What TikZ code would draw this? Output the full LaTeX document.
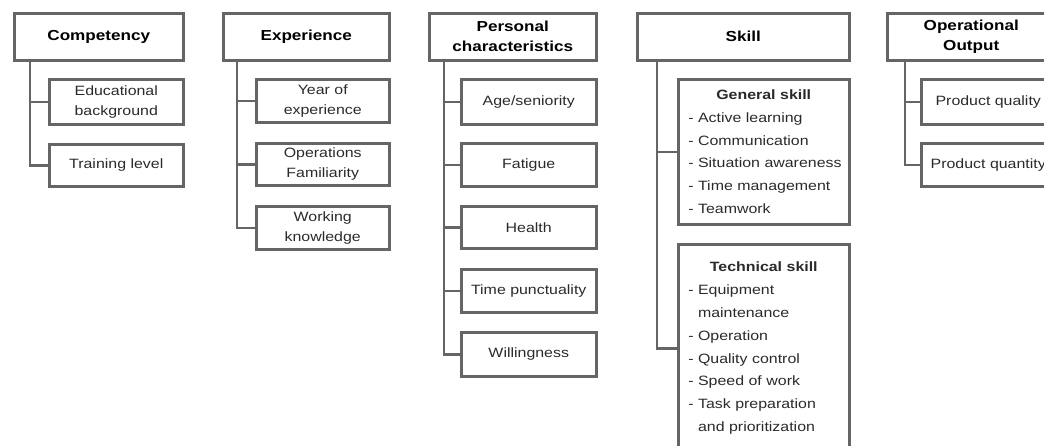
\documentclass[tikz,border=0pt]{standalone}
\usepackage{fontspec}
\setmainfont[FakeStretch=1.18]{Liberation Sans}
\definecolor{lc}{HTML}{656565}
\definecolor{tc}{HTML}{2A2A2A}
\begin{document}
\begin{tikzpicture}[x=1pt,y=-1pt,
  box/.style={draw=lc, line width=2.5pt, anchor=north west, inner sep=0pt, align=center,
              font=\fontsize{13.5}{20}\selectfont, text=tc},
  head/.style={box, font=\fontsize{14.5}{20}\selectfont\bfseries, text=black},
  listbox/.style={box, align=left, text width=151pt, font=\fontsize{13.5}{22.8}\selectfont},
  conn/.style={draw=lc, line width=2.5pt},
]
\useasboundingbox (0,0) rectangle (1044,445);
\clip (0,0) rectangle (1044,445);

% Competency
\node[head, minimum width=169pt, minimum height=47pt] (comp) at (13,12) {Competency};
\node[box, minimum width=134pt, minimum height=45pt] (edu) at (48,78) {Educational\\background};
\node[box, minimum width=134pt, minimum height=42pt] (train) at (48,143) {Training level};
\draw[conn] ([xshift=17pt]comp.south west) |- (edu.west);
\draw[conn] ([xshift=17pt]comp.south west) |- (train.west);

% Experience
\node[head, minimum width=166pt, minimum height=47pt] (exp) at (222,12) {Experience};
\node[box, minimum width=133pt, minimum height=43pt] (year) at (255,78) {Year of\\experience};
\node[box, minimum width=133pt, minimum height=42pt] (opfam) at (255,142) {Operations\\Familiarity};
\node[box, minimum width=133pt, minimum height=43pt] (work) at (255,205) {Working\\knowledge};
\draw[conn] ([xshift=15pt]exp.south west) |- (year.west);
\draw[conn] ([xshift=15pt]exp.south west) |- (opfam.west);
\draw[conn] ([xshift=15pt]exp.south west) |- (work.west);

% Personal characteristics
\node[head, minimum width=167pt, minimum height=47pt] (pers) at (428,12) {Personal\\characteristics};
\node[box, minimum width=135pt, minimum height=45pt] (age) at (460,78) {Age/seniority};
\node[box, minimum width=135pt, minimum height=43pt] (fat) at (460,142) {Fatigue};
\node[box, minimum width=135pt, minimum height=42pt] (health) at (460,205) {Health};
\node[box, minimum width=135pt, minimum height=43pt] (punct) at (460,268) {Time punctuality};
\node[box, minimum width=135pt, minimum height=44pt] (will) at (460,331) {Willingness};
\draw[conn] ([xshift=16pt]pers.south west) |- (age.west);
\draw[conn] ([xshift=16pt]pers.south west) |- (fat.west);
\draw[conn] ([xshift=16pt]pers.south west) |- (health.west);
\draw[conn] ([xshift=16pt]pers.south west) |- (punct.west);
\draw[conn] ([xshift=16pt]pers.south west) |- (will.west);

% Skill
\node[head, minimum width=212pt, minimum height=47pt] (skill) at (636,12) {Skill};
\node[listbox, minimum width=171pt, minimum height=145pt] (gen) at (677,78)
  {{\centering\bfseries General skill\par}%
   - Active learning\\- Communication\\\mbox{- Situation awareness}\\- Time management\\- Teamwork};
\node[listbox, minimum width=171pt, minimum height=208pt] (tech) at (677,243)
  {{\centering\bfseries Technical skill\par}%
   - Equipment\\\phantom{- }maintenance\\- Operation\\- Quality control\\- Speed of work\\- Task preparation\\\phantom{- }and prioritization};
\draw[conn] ([xshift=21pt]skill.south west) |- (gen.west);
\draw[conn] ([xshift=21pt]skill.south west) |- (tech.west);

% Operational Output
\node[head, minimum width=168pt, minimum height=47pt] (op) at (886,12) {Operational\\Output};
\node[box, minimum width=134pt, minimum height=45pt] (pqual) at (920,78) {Product quality};
\node[box, minimum width=134pt, minimum height=43pt] (pquant) at (920,142) {Product quantity};
\draw[conn] ([xshift=19pt]op.south west) |- (pqual.west);
\draw[conn] ([xshift=19pt]op.south west) |- (pquant.west);
\end{tikzpicture}
\end{document}
